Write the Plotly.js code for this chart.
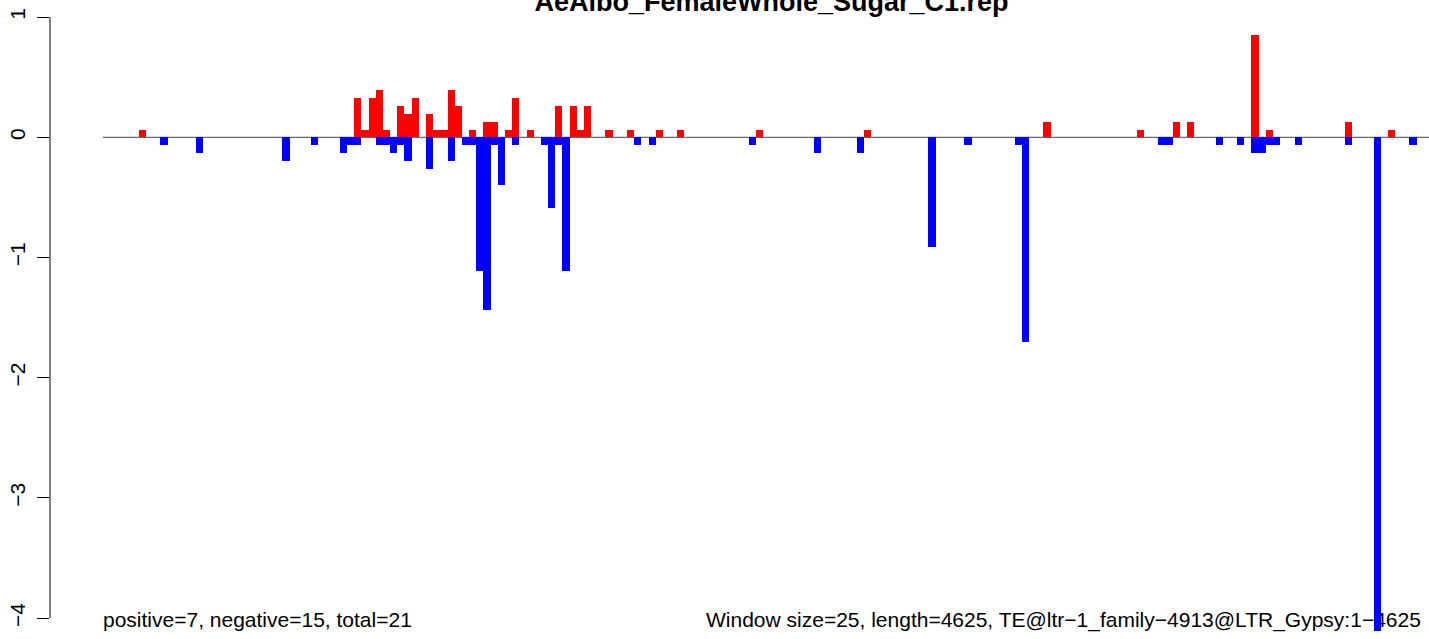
<!DOCTYPE html>
<html>
<head>
<meta charset="utf-8">
<script src="https://cdn.plot.ly/plotly-3.0.1.min.js"></script>
<style>html,body{margin:0;padding:0;background:#fff;}#chart{width:1429px;height:639px;}</style>
</head>
<body>
<div id="chart"></div>
<script>
// window indices (window size 25, 185 windows over length 4625)
const titleText = "AeAlbo_FemaleWhole_Sugar_C1.rep";
const leftNote = "positive=7, negative=15, total=21";
const rightNote = "Window size=25, length=4625, TE@ltr\u22121_family\u22124913@LTR_Gypsy:1\u22124625";
const nWindows = 185;

const posWindows = [5,35,36,37,38,39,41,42,43,45,46,47,48,49,51,53,54,56,57,59,63,65,66,67,70,73,77,80,91,106,131,144,149,151,160,162,173,179];
const posValues  = [0.061,0.327,0.061,0.327,0.394,0.061,0.26,0.194,0.327,0.194,0.061,0.061,0.394,0.26,0.061,0.128,0.128,0.061,0.327,0.061,0.26,0.26,0.061,0.26,0.061,0.061,0.061,0.061,0.061,0.061,0.128,0.061,0.128,0.128,0.851,0.061,0.128,0.061];

const negWindows = [8,13,25,29,33,34,35,38,39,40,41,42,45,48,50,51,52,53,54,55,57,61,62,63,64,74,76,90,99,105,115,120,127,128,147,148,155,158,160,161,162,163,166,173,177,182];
const negValues  = [-0.064,-0.128,-0.194,-0.064,-0.128,-0.064,-0.064,-0.064,-0.064,-0.128,-0.064,-0.194,-0.263,-0.194,-0.064,-0.064,-1.112,-1.44,-0.064,-0.399,-0.064,-0.064,-0.59,-0.064,-1.112,-0.064,-0.064,-0.064,-0.128,-0.128,-0.912,-0.064,-0.064,-1.70,-0.064,-0.064,-0.064,-0.064,-0.128,-0.128,-0.064,-0.064,-0.064,-0.064,-4.11,-0.064];

const yTicks = [-4,-3,-2,-1,0,1];

const FONT = "Liberation Sans, Arial, Helvetica, sans-serif";
const xr = [-7.384, 184.73];
const yr = [-4.174, 1.1423];

const traces = [
  {
    type: "scatter", mode: "text", x: [0], y: [-4.03], text: [leftNote],
    textposition: "middle right", textfont: {family: FONT, size: 21, color: "#000"},
    cliponaxis: false, hoverinfo: "skip", xaxis: "x", yaxis: "y"
  },
  {
    type: "scatter", mode: "text", x: [183.6], y: [-4.03], text: [rightNote],
    textposition: "middle left", textfont: {family: FONT, size: 21, color: "#000"},
    cliponaxis: false, hoverinfo: "skip", xaxis: "x", yaxis: "y"
  },
  {
    type: "bar", x: posWindows.map(k => k + 0.5), y: posValues, width: 1,
    marker: {color: "#FF0000", line: {width: 0}}, xaxis: "x2", yaxis: "y2", hoverinfo: "x+y"
  },
  {
    type: "bar", x: negWindows.map(k => k + 0.5), y: negValues, width: 1,
    marker: {color: "#0000FF", line: {width: 0}}, xaxis: "x2", yaxis: "y2", hoverinfo: "x+y"
  }
];

const layout = {
  width: 1429, height: 639,
  margin: {l: 50, r: 0, t: 0, b: 0, pad: 0},
  paper_bgcolor: "#fff", plot_bgcolor: "#fff",
  showlegend: false,
  barmode: "overlay", bargap: 0,
  font: {family: FONT, color: "#000"},
  title: {
    text: "<b>" + titleText + "</b>",
    font: {family: FONT, size: 27, color: "#000"},
    x: 771.5 / 1429, xanchor: "center", xref: "container",
    y: 0.998, yanchor: "middle", yref: "container"
  },
  xaxis: {range: xr, visible: false, fixedrange: true},
  yaxis: {
    range: yr, tickvals: yTicks, ticks: "outside", ticklen: 12, tickwidth: 1,
    tickcolor: "#000", showgrid: false, zeroline: false, showline: false,
    tickangle: -90, ticklabelstandoff: 4,
    tickfont: {family: FONT, size: 21, color: "#000"}, fixedrange: true
  },
  xaxis2: {range: xr, overlaying: "x", visible: false, fixedrange: true},
  yaxis2: {range: yr, overlaying: "y", visible: false, fixedrange: true},
  shapes: [
    {type: "line", xref: "paper", yref: "y", x0: 0, x1: 0, y0: yTicks[0], y1: yTicks[yTicks.length-1],
     line: {color: "#000", width: 1}},
    {type: "line", xref: "x", yref: "y", x0: 0, x1: nWindows, y0: 0, y1: 0, layer: "below",
     line: {color: "#444", width: 1}}
  ]
};

Plotly.newPlot("chart", traces, layout, {staticPlot: true, displayModeBar: false});
</script>
</body>
</html>
